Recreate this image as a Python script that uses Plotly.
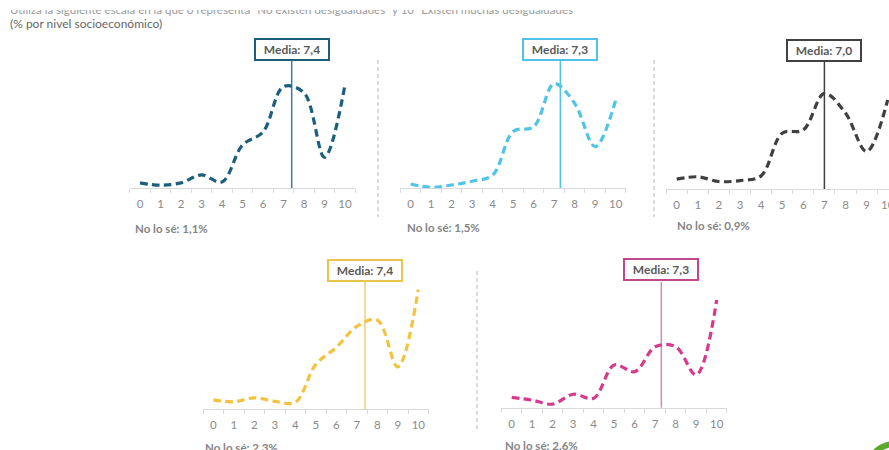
import plotly.graph_objects as go

W, H = 889, 450

scores = list(range(11))
tick_text = [str(s) for s in scores]

# % de respuestas por puntuación (0-10), por nivel socioeconómico
vals_1 = [1.1, 0.6, 1.1, 2.8, 1.3, 9.2, 12.0, 21.7, 20.4, 6.6, 22.1]
vals_2 = [0.9, 0.2, 0.7, 1.5, 2.8, 12.0, 13.0, 22.1, 17.9, 8.8, 18.6]
vals_3 = [2.1, 2.6, 1.6, 1.8, 2.8, 11.9, 12.6, 20.4, 16.2, 8.0, 19.0]
vals_4 = [1.9, 1.5, 2.3, 1.6, 1.4, 9.0, 12.4, 16.6, 17.9, 8.5, 24.0]
vals_5 = [2.6, 1.9, 0.9, 3.4, 2.4, 10.8, 9.1, 15.4, 15.4, 8.3, 27.2]

means = [7.4, 7.3, 7.0, 7.4, 7.3]
mean_text = ["Media: 7,4", "Media: 7,3", "Media: 7,0", "Media: 7,4", "Media: 7,3"]
dont_know = ["No lo sé: 1,1%", "No lo sé: 1,5%", "No lo sé: 0,9%",
             "No lo sé: 2,3%", "No lo sé: 2.6%"]

colors = ["#1b5f7c", "#4fc3e8", "#404040", "#f3c33f", "#d9398a"]
box_colors = ["#1b5f7c", "#4fc3e8", "#404040", "#e8c44a", "#c2478f"]
mean_line_colors = ["#3d7f96", "#4fc3e8", "#404040", "#f0cf6a", "#d58ab3"]

series = [vals_1, vals_2, vals_3, vals_4, vals_5]


def fx(p):
    return p / W


def fy(p):
    return 1 - p / H


# panel geometry in pixels: x of score 0, px per score, baseline y, top y, y max
panels = [
    dict(x0=140.0, unit=20.5, base=188.0, top=40, ymax=31.7, xmax=10.5, box=(39, 60), note=(133, 229)),
    dict(x0=410.7, unit=20.5, base=188.3, top=40, ymax=31.3, xmax=10.5, box=(39, 60), note=(405, 227)),
    dict(x0=676.7, unit=21.1, base=189.0, top=40, ymax=31.8, xmax=None, box=(39, 61), note=(675, 225)),
    dict(x0=213.3, unit=20.5, base=409.3, top=260, ymax=29.9, xmax=10.5, box=(258, 282), note=(203, 447)),
    dict(x0=511.7, unit=20.5, base=407.7, top=260, ymax=37.3, xmax=10.5, box=(257, 282), note=(503, 445)),
]

fig = go.Figure()
shapes = []
annotations = []

for i, (p, vals) in enumerate(zip(panels, series)):
    n = i + 1
    xa = "x" if n == 1 else f"x{n}"
    ya = "y" if n == 1 else f"y{n}"
    left = p["x0"] - 0.5 * p["unit"]
    if p["xmax"] is None:
        right = W
        xmax = (W - p["x0"]) / p["unit"]
    else:
        xmax = p["xmax"]
        right = p["x0"] + xmax * p["unit"]

    fig.add_trace(go.Scatter(
        x=scores, y=vals, mode="lines", xaxis=xa, yaxis=ya,
        line=dict(color=colors[i], width=3.2, dash="7.5px,4.5px", shape="spline", smoothing=1.0),
        hoverinfo="x+y", showlegend=False,
    ))

    xkey = "xaxis" if n == 1 else f"xaxis{n}"
    ykey = "yaxis" if n == 1 else f"yaxis{n}"
    fig.layout[xkey] = dict(
        domain=[fx(left), fx(right)], range=[-0.5, xmax], anchor=ya,
        tickvals=scores, ticktext=tick_text, ticks="", ticklabelstandoff=5,
        ticklabeloverflow="allow", automargin=False,
        tickfont=dict(family="Lato", size=11.5, color="#8a8a8a"),
        showgrid=False, zeroline=False, showline=True, linecolor="#d9d9d9", linewidth=1,
        minor=dict(tickvals=[s - 0.5 for s in scores] + [10.5], ticks="outside",
                   ticklen=4, tickcolor="#d9d9d9", tickwidth=1, showgrid=False),
        fixedrange=True,
    )
    fig.layout[ykey] = dict(
        domain=[fy(p["base"]), fy(p["top"])], range=[0, p["ymax"]], anchor=xa,
        visible=False, fixedrange=True, automargin=False,
    )

    # mean marker: vertical line plus labelled box
    box_top, box_bot = p["box"]
    shapes.append(dict(type="line", xref=xa, yref="paper", x0=means[i], x1=means[i],
                       y0=fy(p["base"]), y1=fy(box_bot), layer="below",
                       line=dict(color=mean_line_colors[i], width=1.5)))
    annotations.append(dict(
        xref=xa, yref="paper", x=means[i], y=fy((box_top + box_bot) / 2),
        text=f"<b>{mean_text[i]}</b>", showarrow=False, xanchor="center", yanchor="middle",
        font=dict(family="Lato", size=12, color="#595959"),
        bgcolor="white", bordercolor=box_colors[i], borderwidth=2, borderpad=2,
        width=68, height=15,
    ))

    nx, ny = p["note"]
    annotations.append(dict(
        xref="paper", yref="paper", x=fx(nx), y=fy(ny), xanchor="left", yanchor="middle",
        text=f"<b>{dont_know[i]}</b>", showarrow=False,
        font=dict(family="Lato", size=11.5, color="#858585"),
    ))

# dashed separators between panels
for xs, y0, y1 in [(378, 60, 217), (654, 60, 217), (477, 271, 430)]:
    shapes.append(dict(type="line", xref="paper", yref="paper", x0=fx(xs), x1=fx(xs),
                       y0=fy(y0), y1=fy(y1),
                       line=dict(color="#d0d0d0", width=1.5, dash="4px,3px")))

# green ring in the lower right corner
cx, cy, r = 895, 472, 28
shapes.append(dict(type="circle", xref="paper", yref="paper",
                   x0=fx(cx - r), x1=fx(cx + r), y0=fy(cy + r), y1=fy(cy - r),
                   line=dict(color="#5aaa2c", width=6), fillcolor="white"))

# header text, its upper half masked by a white band along the top edge
annotations.append(dict(
    xref="paper", yref="paper", x=fx(8), y=fy(9.5), xanchor="left", yanchor="middle",
    text="Utiliza la siguiente escala en la que 0 representa \"No existen desigualdades\" y 10 \"Existen muchas desigualdades\"",
    showarrow=False, font=dict(family="Lato", size=11.5, color="#9a9a9a"),
))
annotations.append(dict(
    xref="paper", yref="paper", x=0, y=1, xanchor="left", yanchor="top",
    text=" ", showarrow=False, bgcolor="white", borderpad=0, borderwidth=0,
    width=700, height=9.5, font=dict(size=1),
))
annotations.append(dict(
    xref="paper", yref="paper", x=fx(8), y=fy(23.5), xanchor="left", yanchor="middle",
    text="(% por nivel socioeconómico)", showarrow=False,
    font=dict(family="Lato", size=12, color="#666666"),
))

fig.update_layout(
    width=W, height=H, margin=dict(l=0, r=0, t=0, b=0, autoexpand=False),
    paper_bgcolor="white", plot_bgcolor="white",
    shapes=shapes, annotations=annotations, showlegend=False,
)

fig.write_html("out.html", config={"displayModeBar": False})
